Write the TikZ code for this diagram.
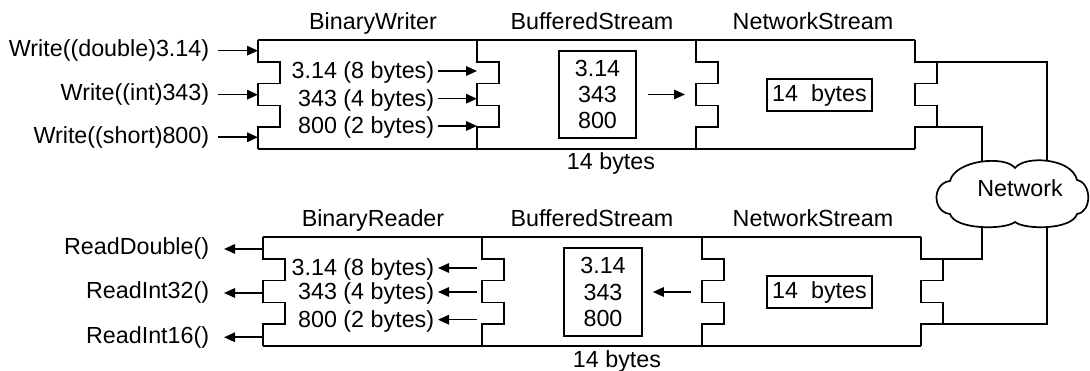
\documentclass[tikz,border=0pt]{standalone}
\usepackage{fontspec}
\setmainfont{Liberation Sans}
\usetikzlibrary{arrows.meta}
\begin{document}
\begin{tikzpicture}[x=1pt,y=-1pt,line width=1.7pt,
  lbl/.style={inner sep=0pt,font=\fontsize{23.3}{26.3}\selectfont},
  arr/.style={-{Triangle[length=11pt,width=9.5pt]},line width=1.6pt},
  membox/.style={draw,lbl,align=center,minimum width=77pt,minimum height=87pt},
  bytebox/.style={draw,lbl,inner xsep=3pt,minimum height=32pt,minimum width=105pt},
  plug/.pic={\draw (0,0) -- (0,21.8) -- (22,21.8) -- (22,43.6) -- (0,43.6)
              -- (0,65.4) -- (22,65.4) -- (22,87.2) -- (0,87.2) -- (0,109);}
]
\useasboundingbox (0,0) rectangle (1090,371);

% ---------- writing chain ----------
\coordinate (T0) at (258,40);  \coordinate (T1) at (477,40);
\coordinate (T2) at (696,40);  \coordinate (T3) at (915,40);
\coordinate (T0b) at (258,149); \coordinate (T3b) at (915,149);
\draw (T0) -- (T3);
\draw (T0b) -- (T3b);
\foreach \c in {T0,T1,T2,T3} \pic at (\c) {plug};

\node[lbl,anchor=base] (tBW) at (373,29.5) {BinaryWriter};
\node[lbl,anchor=base] (tBS) at (592,29.5) {BufferedStream};
\node[lbl,anchor=base] (tNS) at (813,29.5) {NetworkStream};

\node[lbl,anchor=base east] (w1) at (210,56.7) {Write((double)3.14)};
\node[lbl,anchor=base east] (w2) at (210,100.7) {Write((int)343)};
\node[lbl,anchor=base east] (w3) at (210,143.3) {Write((short)800)};
\foreach \n in {w1,w2,w3} \draw[arr,shorten <=8pt] (\n.east) -- (\n.east -| T0);

\node[lbl,anchor=base east] (b1) at (435,79) {3.14 (8 bytes)};
\node[lbl,anchor=base east] (b2) at (435,106.7) {343 (4 bytes)};
\node[lbl,anchor=base east] (b3) at (435,134) {800 (2 bytes)};
\foreach \n in {b1,b2,b3}{
  \coordinate (\n a) at ([yshift=8pt]\n.base east);
  \draw[arr,shorten <=3pt] (\n a) -- (\n a -| T1);
}

\node[membox] (bufT) at (597.5,94.5) {3.14\\343\\800};
\draw[arr,shorten <=11pt,shorten >=11pt] (bufT.east) -- (bufT.east -| T2);
\node[lbl,anchor=base] (capT) at (611,170) {14 bytes};

\node[bytebox] (nsT) at (819.5,95) {14~~bytes};

% ---------- reading chain ----------
\coordinate (B0) at (263,237);  \coordinate (B1) at (482,237);
\coordinate (B2) at (702,237);  \coordinate (B3) at (921,237);
\coordinate (B0b) at (263,346); \coordinate (B3b) at (921,346);
\draw (B0) -- (B3);
\draw (B0b) -- (B3b);
\foreach \c in {B0,B1,B2,B3} \pic at (\c) {plug};

\node[lbl,anchor=base] (tBR) at (373,227) {BinaryReader};
\node[lbl,anchor=base] (tBS2) at (592,227) {BufferedStream};
\node[lbl,anchor=base] (tNS2) at (813,227) {NetworkStream};

\node[lbl,anchor=base east] (r1) at (210,255) {ReadDouble()};
\node[lbl,anchor=base east] (r2) at (210,299) {ReadInt32()};
\node[lbl,anchor=base east] (r3) at (210,343.3) {ReadInt16()};
\foreach \n in {r1,r2,r3} \draw[arr,shorten >=14pt] (\n.east -| B0) -- (\n.east);

\node[lbl,anchor=base east] (c1) at (435,276) {3.14 (8 bytes)};
\node[lbl,anchor=base east] (c2) at (435,300) {343 (4 bytes)};
\node[lbl,anchor=base east] (c3) at (435,327.7) {800 (2 bytes)};
\foreach \n in {c1,c2,c3}{
  \coordinate (\n a) at ([yshift=8pt]\n.base east);
  \draw[arr,shorten <=5pt,shorten >=3pt] (\n a -| B1) -- (\n a);
}

\node[membox,minimum width=78pt,minimum height=88pt] (bufB) at (603,292) {3.14\\343\\800};
\draw[arr,shorten <=11pt,shorten >=10pt] (bufB.east -| B2) -- (bufB.east);
\node[lbl,anchor=base] (capB) at (617,367) {14 bytes};

\node[bytebox] (nsB) at (819.5,292) {14~~bytes};

% ---------- network cloud ----------
\draw (950,181) .. controls (955,160) and (1005,155) .. (1015,168)
      .. controls (1025,155) and (1072,158) .. (1077,180)
      .. controls (1092,183) and (1092,212) .. (1077,214)
      .. controls (1072,230) and (1025,230) .. (1015,222)
      .. controls (1005,230) and (955,230) .. (950,214)
      .. controls (932,212) and (932,183) .. (950,181) -- cycle;
\node[lbl,anchor=base] (net) at (1020,196.7) {Network};
\coordinate (cT1) at (982,162);  \coordinate (cT2) at (1047,161);
\coordinate (cB1) at (982,227);  \coordinate (cB2) at (1047,227);

% wires from the socket ends to the cloud
\coordinate (Tw1) at (937,61.8);  \coordinate (Tw2) at (937,127.2);
\coordinate (Bw1) at (943,258.8); \coordinate (Bw2) at (943,324.2);
\draw (Tw1) -- (Tw1 -| cT2) -- (cT2);
\draw (Tw2) -- (Tw2 -| cT1) -- (cT1);
\draw (Bw1) -- (Bw1 -| cB1) -- (cB1);
\draw (Bw2) -- (Bw2 -| cB2) -- (cB2);
\end{tikzpicture}
\end{document}
